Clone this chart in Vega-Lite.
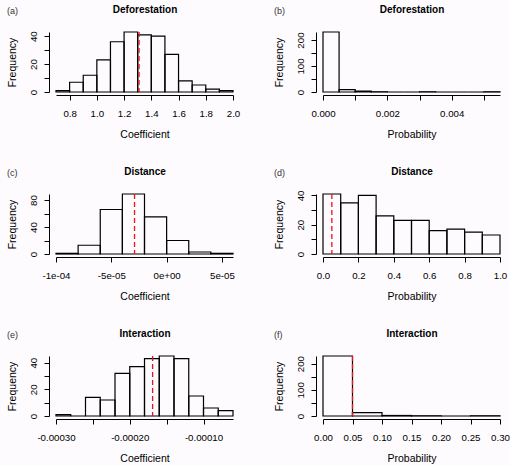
{
  "$schema": "https://vega.github.io/schema/vega-lite/v6.json",
  "background": "#fdfbfd",
  "padding": {"left": 7, "top": 4, "right": 0, "bottom": 0},
  "config": {
    "view": {"stroke": null},
    "font": "Liberation Sans",
    "axis": {"grid": false, "labelOverlap": false, "labelFlush": false, "domainColor": "black", "tickColor": "black", "labelColor": "black", "titleColor": "black", "labelFont": "Liberation Sans", "titleFont": "Liberation Sans", "labelFontSize": 9.7, "titleFontSize": 10.5, "titleFontWeight": "normal", "tickSize": 5, "domainWidth": 1, "tickWidth": 1},
    "axisY": {"labelAngle": -90, "offset": 7, "labelPadding": 6, "titlePadding": 11},
    "axisX": {"offset": 3, "labelPadding": 8, "titlePadding": 12},
    "title": {"anchor": "start", "frame": "bounds", "fontSize": 9, "fontWeight": "normal", "color": "#333", "font": "Liberation Sans", "offset": -12}
  },
  "datasets": {
    "hist": [
      {"p": "a", "lo": 0.7, "hi": 0.8, "n": 1},
      {"p": "a", "lo": 0.8, "hi": 0.9, "n": 7},
      {"p": "a", "lo": 0.9, "hi": 1.0, "n": 12},
      {"p": "a", "lo": 1.0, "hi": 1.1, "n": 23},
      {"p": "a", "lo": 1.1, "hi": 1.2, "n": 36},
      {"p": "a", "lo": 1.2, "hi": 1.3, "n": 43},
      {"p": "a", "lo": 1.3, "hi": 1.4, "n": 41},
      {"p": "a", "lo": 1.4, "hi": 1.5, "n": 40},
      {"p": "a", "lo": 1.5, "hi": 1.6, "n": 27},
      {"p": "a", "lo": 1.6, "hi": 1.7, "n": 8},
      {"p": "a", "lo": 1.7, "hi": 1.8, "n": 5},
      {"p": "a", "lo": 1.8, "hi": 1.9, "n": 2},
      {"p": "a", "lo": 1.9, "hi": 2.0, "n": 1},
      {"p": "b", "lo": 0, "hi": 0.0005, "n": 231},
      {"p": "b", "lo": 0.0005, "hi": 0.001, "n": 9},
      {"p": "b", "lo": 0.001, "hi": 0.0015, "n": 3},
      {"p": "b", "lo": 0.0015, "hi": 0.002, "n": 1},
      {"p": "b", "lo": 0.002, "hi": 0.0025, "n": 0},
      {"p": "b", "lo": 0.0025, "hi": 0.003, "n": 0},
      {"p": "b", "lo": 0.003, "hi": 0.0035, "n": 1},
      {"p": "b", "lo": 0.0035, "hi": 0.004, "n": 0},
      {"p": "b", "lo": 0.004, "hi": 0.0045, "n": 0},
      {"p": "b", "lo": 0.0045, "hi": 0.005, "n": 0},
      {"p": "b", "lo": 0.005, "hi": 0.0055, "n": 1},
      {"p": "c", "lo": -0.0001, "hi": -0.00008, "n": 1},
      {"p": "c", "lo": -0.00008, "hi": -0.00006, "n": 13},
      {"p": "c", "lo": -0.00006, "hi": -0.00004, "n": 66},
      {"p": "c", "lo": -0.00004, "hi": -0.00002, "n": 89},
      {"p": "c", "lo": -0.00002, "hi": 0, "n": 55},
      {"p": "c", "lo": 0, "hi": 0.00002, "n": 20},
      {"p": "c", "lo": 0.00002, "hi": 0.00004, "n": 3},
      {"p": "c", "lo": 0.00004, "hi": 0.00006, "n": 1},
      {"p": "d", "lo": 0, "hi": 0.1, "n": 41},
      {"p": "d", "lo": 0.1, "hi": 0.2, "n": 35},
      {"p": "d", "lo": 0.2, "hi": 0.3, "n": 40},
      {"p": "d", "lo": 0.3, "hi": 0.4, "n": 26},
      {"p": "d", "lo": 0.4, "hi": 0.5, "n": 23},
      {"p": "d", "lo": 0.5, "hi": 0.6, "n": 23},
      {"p": "d", "lo": 0.6, "hi": 0.7, "n": 16},
      {"p": "d", "lo": 0.7, "hi": 0.8, "n": 17},
      {"p": "d", "lo": 0.8, "hi": 0.9, "n": 15},
      {"p": "d", "lo": 0.9, "hi": 1.0, "n": 13},
      {"p": "e", "lo": -0.0003, "hi": -0.00028, "n": 1},
      {"p": "e", "lo": -0.00028, "hi": -0.00026, "n": 0},
      {"p": "e", "lo": -0.00026, "hi": -0.00024, "n": 14},
      {"p": "e", "lo": -0.00024, "hi": -0.00022, "n": 12},
      {"p": "e", "lo": -0.00022, "hi": -0.0002, "n": 32},
      {"p": "e", "lo": -0.0002, "hi": -0.00018, "n": 37},
      {"p": "e", "lo": -0.00018, "hi": -0.00016, "n": 43},
      {"p": "e", "lo": -0.00016, "hi": -0.00014, "n": 45},
      {"p": "e", "lo": -0.00014, "hi": -0.00012, "n": 43},
      {"p": "e", "lo": -0.00012, "hi": -0.0001, "n": 15},
      {"p": "e", "lo": -0.0001, "hi": -0.00008, "n": 6},
      {"p": "e", "lo": -0.00008, "hi": -0.00006, "n": 4},
      {"p": "f", "lo": 0, "hi": 0.05, "n": 229},
      {"p": "f", "lo": 0.05, "hi": 0.1, "n": 13},
      {"p": "f", "lo": 0.1, "hi": 0.15, "n": 2},
      {"p": "f", "lo": 0.15, "hi": 0.2, "n": 1},
      {"p": "f", "lo": 0.2, "hi": 0.25, "n": 0},
      {"p": "f", "lo": 0.25, "hi": 0.3, "n": 1}
    ],
    "lines": [
      {"p": "a", "v": 1.31},
      {"p": "c", "v": -0.000029},
      {"p": "d", "v": 0.05},
      {"p": "e", "v": -0.000169},
      {"p": "f", "v": 0.05}
    ]
  },
  "columns": 2,
  "spacing": {"row": 102, "column": 90},
  "bounds": "flush",
  "concat": [
    {
      "width": 177, "height": 60, "title": "(a)",
      "layer": [
        {"data": {"name": "hist"}, "transform": [{"filter": "datum.p === 'a'"}],
         "mark": {"type": "rect", "fill": "transparent", "stroke": "black", "strokeWidth": 1.2},
         "encoding": {
           "x": {"field": "lo", "type": "quantitative", "scale": {"domain": [0.7, 2.0], "nice": false, "zero": false}, "axis": {"title": "Coefficient", "values": [0.8, 1.0, 1.2, 1.4, 1.6, 1.8, 2.0], "format": ".1f"}},
           "x2": {"field": "hi"},
           "y": {"field": "n", "type": "quantitative", "scale": {"domain": [0, 43], "nice": false}, "axis": {"title": "Frequency", "values": [0, 10, 20, 30, 40], "labelExpr": "datum.value % 20 === 0 ? datum.label : ''"}},
           "y2": {"datum": 0}
         }},
        {"data": {"name": "lines"}, "transform": [{"filter": "datum.p === 'a'"}],
         "mark": {"type": "rule", "color": "#e8141c", "strokeDash": [5, 3], "strokeWidth": 1.3},
         "encoding": {"x": {"field": "v", "type": "quantitative", "axis": {"orient": "top", "title": "Deforestation", "domain": false, "ticks": false, "labels": false, "tickSize": 0, "offset": 0, "titleFontWeight": "bold", "titleFontSize": 10, "titlePadding": 18}}}}
      ],
      "resolve": {"axis": {"x": "independent"}}
    },
    {
      "width": 177, "height": 60, "title": "(b)",
      "layer": [
        {"data": {"name": "hist"}, "transform": [{"filter": "datum.p === 'b'"}],
         "mark": {"type": "rect", "fill": "transparent", "stroke": "black", "strokeWidth": 1.2},
         "encoding": {
           "x": {"field": "lo", "type": "quantitative", "scale": {"domain": [0, 0.0055], "nice": false, "zero": false}, "axis": {"title": "Probability", "values": [0, 0.001, 0.002, 0.003, 0.004, 0.005], "format": ".3f", "labelExpr": "round(datum.value * 1000) % 2 === 0 ? datum.label : ''"}},
           "x2": {"field": "hi"},
           "y": {"field": "n", "type": "quantitative", "scale": {"domain": [0, 231], "nice": false}, "axis": {"title": "Frequency", "values": [0, 50, 100, 150, 200], "labelExpr": "datum.value % 100 === 0 ? datum.label : ''"}},
           "y2": {"datum": 0}
         }},
        {"data": {"name": "lines"}, "transform": [{"filter": "datum.p === 'b'"}],
         "mark": {"type": "rule", "color": "#e8141c", "strokeDash": [5, 3], "strokeWidth": 1.3},
         "encoding": {"x": {"field": "v", "type": "quantitative", "axis": {"orient": "top", "title": "Deforestation", "domain": false, "ticks": false, "labels": false, "tickSize": 0, "offset": 0, "titleFontWeight": "bold", "titleFontSize": 10, "titlePadding": 18}}}}
      ],
      "resolve": {"axis": {"x": "independent"}}
    },
    {
      "width": 177, "height": 60, "title": "(c)",
      "layer": [
        {"data": {"name": "hist"}, "transform": [{"filter": "datum.p === 'c'"}],
         "mark": {"type": "rect", "fill": "transparent", "stroke": "black", "strokeWidth": 1.2},
         "encoding": {
           "x": {"field": "lo", "type": "quantitative", "scale": {"domain": [-0.0001, 0.00006], "nice": false, "zero": false}, "axis": {"title": "Coefficient", "values": [-0.0001, -0.00005, 0, 0.00005], "labelExpr": "datum.value < -0.00009 ? '-1e-04' : datum.value < -0.00004 ? '-5e-05' : datum.value < 0.00001 ? '0e+00' : '5e-05'"}},
           "x2": {"field": "hi"},
           "y": {"field": "n", "type": "quantitative", "scale": {"domain": [0, 89], "nice": false}, "axis": {"title": "Frequency", "values": [0, 20, 40, 60, 80], "labelExpr": "datum.value % 40 === 0 ? datum.label : ''"}},
           "y2": {"datum": 0}
         }},
        {"data": {"name": "lines"}, "transform": [{"filter": "datum.p === 'c'"}],
         "mark": {"type": "rule", "color": "#e8141c", "strokeDash": [5, 3], "strokeWidth": 1.3},
         "encoding": {"x": {"field": "v", "type": "quantitative", "axis": {"orient": "top", "title": "Distance", "domain": false, "ticks": false, "labels": false, "tickSize": 0, "offset": 0, "titleFontWeight": "bold", "titleFontSize": 10, "titlePadding": 18}}}}
      ],
      "resolve": {"axis": {"x": "independent"}}
    },
    {
      "width": 177, "height": 60, "title": "(d)",
      "layer": [
        {"data": {"name": "hist"}, "transform": [{"filter": "datum.p === 'd'"}],
         "mark": {"type": "rect", "fill": "transparent", "stroke": "black", "strokeWidth": 1.2},
         "encoding": {
           "x": {"field": "lo", "type": "quantitative", "scale": {"domain": [0, 1], "nice": false, "zero": false}, "axis": {"title": "Probability", "values": [0, 0.2, 0.4, 0.6, 0.8, 1.0], "format": ".1f"}},
           "x2": {"field": "hi"},
           "y": {"field": "n", "type": "quantitative", "scale": {"domain": [0, 41], "nice": false}, "axis": {"title": "Frequency", "values": [0, 10, 20, 30, 40], "labelExpr": "datum.value % 20 === 0 ? datum.label : ''"}},
           "y2": {"datum": 0}
         }},
        {"data": {"name": "lines"}, "transform": [{"filter": "datum.p === 'd'"}],
         "mark": {"type": "rule", "color": "#e8141c", "strokeDash": [5, 3], "strokeWidth": 1.3},
         "encoding": {"x": {"field": "v", "type": "quantitative", "axis": {"orient": "top", "title": "Distance", "domain": false, "ticks": false, "labels": false, "tickSize": 0, "offset": 0, "titleFontWeight": "bold", "titleFontSize": 10, "titlePadding": 18}}}}
      ],
      "resolve": {"axis": {"x": "independent"}}
    },
    {
      "width": 177, "height": 60, "title": "(e)",
      "layer": [
        {"data": {"name": "hist"}, "transform": [{"filter": "datum.p === 'e'"}],
         "mark": {"type": "rect", "fill": "transparent", "stroke": "black", "strokeWidth": 1.2},
         "encoding": {
           "x": {"field": "lo", "type": "quantitative", "scale": {"domain": [-0.0003, -0.00006], "nice": false, "zero": false}, "axis": {"title": "Coefficient", "values": [-0.0003, -0.00025, -0.0002, -0.00015, -0.0001], "format": ".5f", "labelExpr": "round(datum.value * 100000) % 10 === 0 ? replace(datum.label, '\u2212', '-') : ''"}},
           "x2": {"field": "hi"},
           "y": {"field": "n", "type": "quantitative", "scale": {"domain": [0, 45], "nice": false}, "axis": {"title": "Frequency", "values": [0, 10, 20, 30, 40], "labelExpr": "datum.value % 20 === 0 ? datum.label : ''"}},
           "y2": {"datum": 0}
         }},
        {"data": {"name": "lines"}, "transform": [{"filter": "datum.p === 'e'"}],
         "mark": {"type": "rule", "color": "#e8141c", "strokeDash": [5, 3], "strokeWidth": 1.3},
         "encoding": {"x": {"field": "v", "type": "quantitative", "axis": {"orient": "top", "title": "Interaction", "domain": false, "ticks": false, "labels": false, "tickSize": 0, "offset": 0, "titleFontWeight": "bold", "titleFontSize": 10, "titlePadding": 18}}}}
      ],
      "resolve": {"axis": {"x": "independent"}}
    },
    {
      "width": 177, "height": 60, "title": "(f)",
      "layer": [
        {"data": {"name": "hist"}, "transform": [{"filter": "datum.p === 'f'"}],
         "mark": {"type": "rect", "fill": "transparent", "stroke": "black", "strokeWidth": 1.2},
         "encoding": {
           "x": {"field": "lo", "type": "quantitative", "scale": {"domain": [0, 0.3], "nice": false, "zero": false}, "axis": {"title": "Probability", "values": [0, 0.05, 0.1, 0.15, 0.2, 0.25, 0.3], "format": ".2f"}},
           "x2": {"field": "hi"},
           "y": {"field": "n", "type": "quantitative", "scale": {"domain": [0, 229], "nice": false}, "axis": {"title": "Frequency", "values": [0, 50, 100, 150, 200], "labelExpr": "datum.value % 100 === 0 ? datum.label : ''"}},
           "y2": {"datum": 0}
         }},
        {"data": {"name": "lines"}, "transform": [{"filter": "datum.p === 'f'"}],
         "mark": {"type": "rule", "color": "#e8141c", "strokeDash": [5, 3], "strokeWidth": 1.3},
         "encoding": {"x": {"field": "v", "type": "quantitative", "axis": {"orient": "top", "title": "Interaction", "domain": false, "ticks": false, "labels": false, "tickSize": 0, "offset": 0, "titleFontWeight": "bold", "titleFontSize": 10, "titlePadding": 18}}}}
      ],
      "resolve": {"axis": {"x": "independent"}}
    }
  ]
}
